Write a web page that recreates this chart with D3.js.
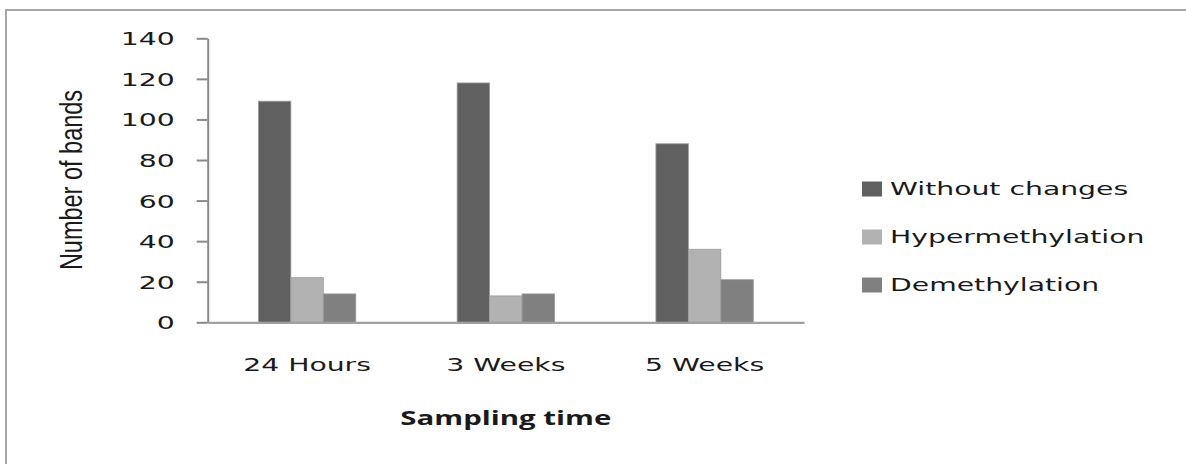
<!DOCTYPE html>
<html>
<head>
<meta charset="utf-8">
<script src="https://cdn.jsdelivr.net/npm/d3@7"></script>
<style>
  html, body { margin: 0; padding: 0; background: #fff; }
  svg { display: block; }
</style>
</head>
<body>
<svg id="chart" width="1186" height="464"></svg>
<script>
// ---- data ----
const categories = ["24 Hours", "3 Weeks", "5 Weeks"];
const seriesNames = ["Without changes", "Hypermethylation", "Demethylation"];
const withoutChanges = [109, 118, 88];
const hypermethylation = [22, 13, 36];
const demethylation = [14, 14, 21];
const yTicks = [0, 20, 40, 60, 80, 100, 120, 140];
const seriesColors = ["#606060", "#b2b2b2", "#808080"];

const seriesValues = [withoutChanges, hypermethylation, demethylation];
const rows = categories.map((c, i) => ({
  category: c,
  values: seriesNames.map((s, j) => ({ series: s, value: seriesValues[j][i], idx: j }))
}));

// ---- layout ----
const plot = { left: 207.7, right: 804, top: 38.3, bottom: 322.3 };
const STRETCH = 1.57; // horizontal stretch of text in the reference image

const svg = d3.select("#chart");

// outer frame (right and bottom edges fall outside the picture)
svg.append("rect")
  .attr("x", 6).attr("y", 10)
  .attr("width", 1300).attr("height", 600)
  .attr("fill", "#fff")
  .attr("stroke", "#a6a6a6").attr("stroke-width", 2);

const x0 = d3.scaleBand()
  .domain(categories)
  .range([plot.left, plot.right])
  .paddingInner(0.51)
  .paddingOuter(0.255);

const x1 = d3.scaleBand()
  .domain(seriesNames)
  .range([0, x0.bandwidth()])
  .padding(0);

const y = d3.scaleLinear()
  .domain([0, 140])
  .range([plot.bottom, plot.top]);

const color = d3.scaleOrdinal().domain(seriesNames).range(seriesColors);

function stretchX(sel, k) {
  sel.each(function () {
    const len = this.getComputedTextLength();
    d3.select(this)
      .attr("textLength", len * k)
      .attr("lengthAdjust", "spacingAndGlyphs");
  });
}

// bars
const groups = svg.append("g").selectAll("g")
  .data(rows)
  .join("g")
  .attr("transform", d => `translate(${x0(d.category)},0)`);

groups.selectAll("rect")
  .data(d => d.values)
  .join("rect")
  .attr("x", d => x1(d.series))
  .attr("width", x1.bandwidth())
  .attr("y", d => y(d.value))
  .attr("height", d => y(0) - y(d.value))
  .attr("fill", d => color(d.series))
  .attr("stroke", "#9c9c9c")
  .attr("stroke-width", 0.8);

// y axis
const yAxis = svg.append("g")
  .attr("transform", `translate(${plot.left},0)`)
  .call(d3.axisLeft(y).tickValues(yTicks).tickSize(11).tickSizeOuter(0).tickPadding(22));
yAxis.select(".domain").attr("stroke", "#8a8a8a").attr("stroke-width", 2);
yAxis.selectAll(".tick line").attr("stroke", "#8a8a8a").attr("stroke-width", 2);
yAxis.selectAll(".tick text")
  .attr("font-family", "'DejaVu Sans', Verdana, sans-serif")
  .attr("font-size", 18)
  .attr("fill", "#1a1a1a")
  .attr("dy", "0.36em")
  .call(stretchX, STRETCH);

// x axis
const xAxis = svg.append("g")
  .attr("transform", `translate(0,${plot.bottom})`)
  .call(d3.axisBottom(x0).tickSize(0).tickPadding(36).tickSizeOuter(0));
xAxis.select(".domain").attr("stroke", "#a0a0a0").attr("stroke-width", 2.2);
xAxis.selectAll(".tick text")
  .attr("font-family", "'DejaVu Sans', Verdana, sans-serif")
  .attr("font-size", 18)
  .attr("fill", "#1a1a1a")
  .call(stretchX, STRETCH);

// x title
svg.append("text")
  .attr("x", (plot.left + plot.right) / 2)
  .attr("y", 425)
  .attr("text-anchor", "middle")
  .attr("font-family", "'Open Sans', Calibri, sans-serif")
  .attr("font-weight", "bold")
  .attr("font-size", 19)
  .attr("fill", "#1a1a1a")
  .attr("textLength", 211)
  .attr("lengthAdjust", "spacingAndGlyphs")
  .text("Sampling time");

// y title
svg.append("text")
  .attr("transform", "translate(82,180) scale(1.3,1) rotate(-90)")
  .attr("text-anchor", "middle")
  .attr("font-family", "'Liberation Sans', Arial, sans-serif")
  .attr("font-size", 23.5)
  .attr("fill", "#1a1a1a")
  .text("Number of bands");

// legend
const legend = svg.append("g").attr("transform", "translate(862,189)");
const item = legend.selectAll("g")
  .data(seriesNames)
  .join("g")
  .attr("transform", (d, i) => `translate(0,${i * 48})`);
item.append("rect")
  .attr("x", 0).attr("y", -7.5)
  .attr("width", 20).attr("height", 15)
  .attr("fill", d => color(d));
item.append("text")
  .attr("x", 28)
  .attr("dy", "0.36em")
  .attr("font-family", "'DejaVu Sans', Verdana, sans-serif")
  .attr("font-size", 18)
  .attr("fill", "#1a1a1a")
  .text(d => d)
  .call(stretchX, STRETCH);
</script>
</body>
</html>
